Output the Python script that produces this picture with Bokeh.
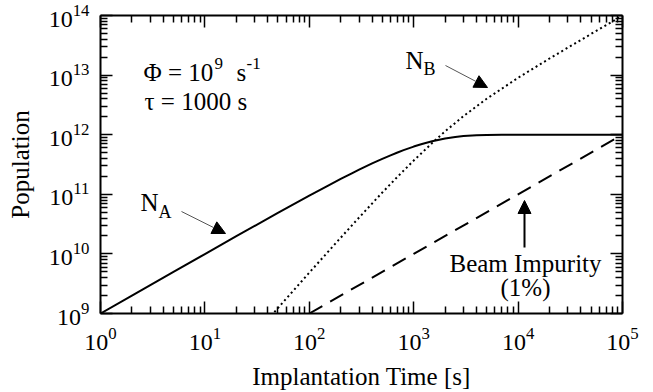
from bokeh.plotting import figure
from bokeh.models import (LogAxis, FixedTicker, LogTicker, LogTickFormatter,
                          CustomJSTickFormatter, Label, Arrow, NormalHead, Range1d)
from bokeh.embed import file_html
from bokeh.resources import INLINE

# ---------------- data ----------------
t_a = [1, 2, 5, 10, 20, 50, 100, 150, 200, 250, 300, 400, 500, 600, 700, 800,
       1000, 1200, 1500, 2000, 2500, 3000, 4000, 5000, 7000, 10000, 20000,
       50000, 100000]
n_a = [1.0e9, 2.0e9, 5.0e9, 9.95e9, 1.98e10, 4.88e10, 9.52e10, 1.39e11,
       1.81e11, 2.21e11, 2.59e11, 3.30e11, 3.93e11, 4.51e11, 5.03e11, 5.51e11,
       6.32e11, 6.99e11, 7.77e11, 8.65e11, 9.18e11, 9.50e11, 9.82e11, 9.93e11,
       9.99e11, 1.0e12, 1.0e12, 1.0e12, 1.0e12]

t_b = [40, 45, 50, 60, 70, 85, 100, 150, 200, 300, 500, 700, 1000, 1500,
       2000, 3000, 5000, 10000, 20000, 50000, 100000]
n_b = [7.9e8, 1.0e9, 1.23e9, 1.77e9, 2.39e9, 3.51e9, 4.84e9, 1.07e10, 1.87e10,
       4.08e10, 1.07e11, 1.97e11, 3.68e11, 7.23e11, 1.14e12, 2.05e12, 4.01e12,
       9.0e12, 1.9e13, 4.9e13, 9.9e13]

t_imp = [100, 1000, 10000, 100000]
n_imp = [1e9, 1e10, 1e11, 1e12]

x_ticks = [1, 10, 100, 1000, 10000, 100000]
y_ticks = [1e9, 1e10, 1e11, 1e12, 1e13, 1e14]

x_minor = [m * 10 ** k for k in range(0, 5) for m in range(2, 10)]
y_minor = [m * 10 ** k for k in range(9, 14) for m in range(2, 10)]

FONT = "Liberation Serif"

# frame position in the reference picture (window pixels)
X0, X1, Y0, Y1 = 100, 622, 313, 15
W, H = 653, 392


def wx(X):
    return 10 ** (5 * (X - X0) / (X1 - X0))


def wy(Y):
    return 10 ** (9 + 5 * (Y0 - Y) / (Y0 - Y1))


p = figure(width=W, height=H, x_axis_type="log", y_axis_type="log",
           x_range=Range1d(1, 1e5), y_range=Range1d(1e9, 1e14),
           output_backend="svg", toolbar_location=None,
           min_border_left=X0, min_border_right=W - X1, min_border_top=Y1,
           min_border_bottom=H - Y0)
p.xgrid.visible = False
p.ygrid.visible = False
p.outline_line_color = None
p.background_fill_color = "white"
p.border_fill_color = "white"

# curves
p.line(t_a, n_a, line_color="black", line_width=2)
p.line(t_b, n_b, line_color="black", line_width=2, line_dash="2 3")
p.line(t_imp, n_imp, line_color="black", line_width=2, line_dash="15 9")


def style_axis(ax, ticks, minor, labels=True):
    ax.ticker = FixedTicker(ticks=ticks, minor_ticks=minor)
    ax.axis_line_width = 2
    ax.axis_line_color = "black"
    ax.major_tick_in = 12
    ax.major_tick_out = 0
    ax.minor_tick_in = 7
    ax.minor_tick_out = 0
    ax.major_tick_line_width = 1.5
    ax.minor_tick_line_width = 1.5
    ax.major_tick_line_color = "black"
    ax.minor_tick_line_color = "black"
    ax.major_label_text_font = FONT
    ax.major_label_text_color = "black"
    ax.axis_label_text_font = FONT
    ax.axis_label_text_font_style = "normal"
    ax.axis_label_text_font_size = "25px"
    ax.axis_label_text_color = "black"
    if labels:
        ax.formatter = LogTickFormatter(ticker=LogTicker())
        ax.major_label_text_font_size = "24px"
    else:
        ax.formatter = CustomJSTickFormatter(code="return ''")
        ax.major_label_text_font_size = "10px"
        ax.major_label_standoff = 0


xa = p.xaxis[0]
ya = p.yaxis[0]
style_axis(xa, x_ticks, x_minor)
style_axis(ya, y_ticks, y_minor)
xa.axis_label = "Implantation Time [s]"
ya.axis_label = "Population"
xa.major_label_standoff = 14
ya.major_label_standoff = 11
xa.axis_label_standoff = 10
ya.axis_label_standoff = 12

top = LogAxis()
right = LogAxis()
style_axis(top, x_ticks, x_minor, labels=False)
style_axis(right, y_ticks, y_minor, labels=False)
p.add_layout(top, "above")
p.add_layout(right, "right")


def lab(X, Y, text, size=25, align="left"):
    p.add_layout(Label(x=wx(X), y=wy(Y), text=text, text_font=FONT,
                       text_font_size=f"{size}px", text_color="black",
                       text_baseline="alphabetic", text_align=align))


# parameters
lab(143, 72, "Φ = 10")
lab(214, 63, "9", 17)
lab(236, 72, "s")
lab(246, 63, "-1", 17)
lab(144, 101, "τ = 1000 s")

# N_A
lab(140, 202, "N")
lab(158, 211, "A", 18)
# N_B
lab(405, 60, "N")
lab(423, 68, "B", 18)
# beam impurity
lab(525, 263, "Beam Impurity", align="center")
lab(525, 287, "(1%)", align="center")


def arrow(Xs, Ys, Xe, Ye, color, width):
    p.add_layout(Arrow(end=NormalHead(size=13, fill_color="black",
                                      line_color="black", line_width=1),
                       x_start=wx(Xs), y_start=wy(Ys), x_end=wx(Xe), y_end=wy(Ye),
                       line_color=color, line_width=width))


arrow(181, 211, 225, 233, "#555555", 1)
arrow(445, 65, 487, 87, "#555555", 1)
arrow(524, 247, 524, 200, "black", 2)

open("out.html", "w").write(file_html(p, INLINE))
